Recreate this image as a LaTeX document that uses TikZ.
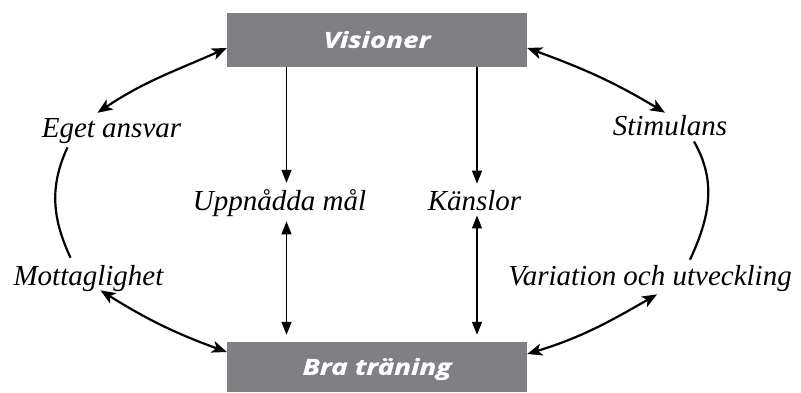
\documentclass[tikz,border=0pt]{standalone}
\usepackage{fontspec}
\setmainfont{Liberation Serif}
\newfontfamily\boxfont[FakeStretch=1.27,FakeBold=1.2]{Open Sans}
\usetikzlibrary{arrows.meta,calc}
\definecolor{boxgray}{RGB}{128,128,132}
\tikzset{
  box/.style={fill=boxgray, minimum width=300pt, inner sep=0pt,
    text=white, font=\boxfont\bfseries\itshape\fontsize{22}{26}\selectfont,
    text height=15.5pt, text depth=0pt},
  lbl/.style={font=\itshape\fontsize{29}{34}\selectfont, inner sep=2pt, anchor=base},
  curv/.style={line width=2.2pt, {Stealth[length=15pt,width=12pt,inset=4pt]}-{Stealth[length=15pt,width=12pt,inset=4pt]}},
  arc/.style={line width=2.2pt},
  vline/.style={line width=1.3pt, -{Triangle[length=13pt,width=10pt]}},
  vdbl/.style={line width=1.3pt, {Triangle[length=13pt,width=10pt]}-{Triangle[length=13pt,width=10pt]}}
}
\begin{document}
\begin{tikzpicture}[x=1pt,y=1pt]
\useasboundingbox (0,0) rectangle (801,392);
% the two boxes
\node[box, minimum height=54pt] (vis) at (377,352) {Visioner};
\node[box, minimum height=50pt] (bra) at (377,25) {Bra träning};
% labels
\node[lbl] (eget) at (111.5,255) {Eget ansvar};
\node[lbl] (stim) at (670,257) {Stimulans};
\node[lbl] (mott) at (88.5,107) {Mottaglighet};
\node[lbl] (var) at (650,107) {Variation och utveckling};
\node[lbl] (upp) at (279.5,182) {Uppnådda mål};
\node[lbl] (kan) at (474.5,182) {Känslor};
% vertical connector columns
\coordinate (ua) at (286.5,0);
\coordinate (ka) at (477,0);
\draw[vline] (vis.south -| ua) -- ($(upp.north -| ua)+(0,4)$);
\draw[vline] (vis.south -| ka) -- ($(kan.north -| ka)+(0,4)$);
\draw[vdbl] ($(upp.south -| ua)+(0,-3)$) -- ($(bra.north -| ua)+(0,7)$);
\draw[vdbl] ($(kan.south -| ka)+(0,-3)$) -- ($(bra.north -| ka)+(0,7)$);
% curved connectors on the left
\draw[curv] ($(vis.west)+(0,-8)$) to[out=204,in=34] ($(eget.north)+(-14,3)$);
\draw[arc] ($(eget.south)+(-44,-2)$) to[out=245,in=115] ($(mott.north)+(-18,5)$);
\draw[curv] ($(mott.south)+(12,3)$) to[out=-32,in=160] ($(bra.west)+(0,15)$);
% curved connectors on the right
\draw[curv] ($(vis.east)+(0,-8)$) to[out=-20,in=149] ($(stim.north)+(-5,0)$);
\draw[arc] ($(stim.south)+(24,-4)$) to[out=-60,in=65] ($(var.north)+(40,3)$);
\draw[curv] ($(bra.east)+(0,13)$) to[out=17,in=210] ($(var.south)+(7,-1)$);
\end{tikzpicture}
\end{document}
